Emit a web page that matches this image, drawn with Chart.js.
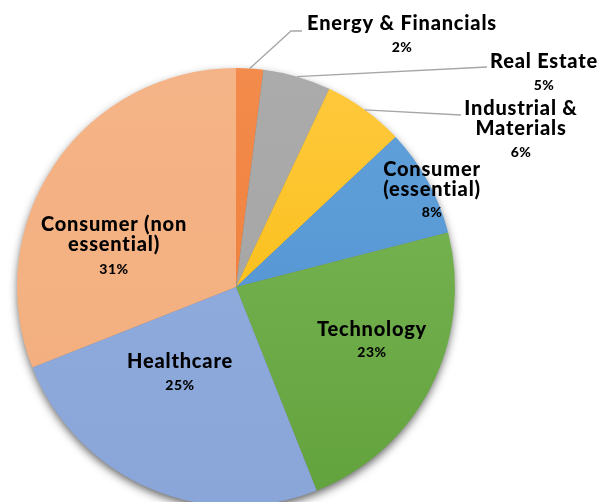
<!DOCTYPE html>
<html lang="en">
<head>
    <meta charset="UTF-8">
    <title>Portfolio by sector</title>
    <script src="https://cdn.jsdelivr.net/npm/chart.js"></script>
    <style>
        html, body {
            margin: 0;
            padding: 0;
            background: #ffffff;
            overflow: hidden;
            width: 600px;
            height: 502px;
        }
        canvas { display: block; }
    </style>
</head>
<body>
    <canvas id="pieChart" width="600" height="510"></canvas>

    <script>
        // data, clockwise from 12 o'clock
        const categories = ['Energy & Financials', 'Real Estate', 'Industrial & Materials',
            'Consumer (essential)', 'Technology', 'Healthcare', 'Consumer (non essential)'];
        const shares = [2, 5, 6, 8, 23, 25, 31];

        // slice colours, lighter at the top, darker at the bottom
        const topColors = ['#F38B4C', '#ABABAB', '#FFC93F', '#63A2DA', '#7DB95A', '#92ADDD', '#F5B487'];
        const bottomColors = ['#EE7A32', '#A2A2A2', '#F7B900', '#4C8ECF', '#62A23C', '#8AA6D9', '#F2AD7C'];

        // label text and where to put it (the leader lines start on the slice edge)
        const labelSpots = [
            { lines: ['Energy & Financials'], x: 402, y: 24, py: 47, leader: [[291, 31], [302, 31]] },
            { lines: ['Real Estate'], x: 544, y: 62, py: 85, leader: [[487, 67]] },
            { lines: ['Industrial &', 'Materials'], x: 521, y: 109, py: 152, leader: [[461, 115]] },
            { lines: ['Consumer', '(essential)'], x: 432, y: 170, py: 212 },
            { lines: ['Technology'], x: 372, y: 330, py: 352 },
            { lines: ['Healthcare'], x: 180, y: 362, py: 385 },
            { lines: ['Consumer (non', 'essential)'], x: 114, y: 225, py: 269 }
        ];

        function sliceGradient(context) {
            const chart = context.chart;
            const area = chart.chartArea;
            if (!area) return topColors[context.dataIndex];
            const g = chart.ctx.createLinearGradient(0, area.top, 0, area.bottom);
            g.addColorStop(0, topColors[context.dataIndex]);
            g.addColorStop(1, bottomColors[context.dataIndex]);
            return g;
        }

        // soft shadow behind the whole pie
        const pieShadow = {
            id: 'pieShadow',
            beforeDatasetsDraw(chart) {
                const arc = chart.getDatasetMeta(0).data[0];
                if (!arc) return;
                const ctx = chart.ctx;
                ctx.save();
                ctx.shadowColor = 'rgba(0,0,0,0.65)';
                ctx.shadowBlur = 10;
                ctx.shadowOffsetX = 0;
                ctx.shadowOffsetY = 4;
                ctx.fillStyle = '#777';
                ctx.beginPath();
                ctx.arc(arc.x, arc.y, arc.outerRadius - 1, 0, Math.PI * 2);
                ctx.fill();
                ctx.restore();
            }
        };

        const sliceLabels = {
            id: 'sliceLabels',
            afterDatasetsDraw(chart) {
                const ctx = chart.ctx;
                const arcs = chart.getDatasetMeta(0).data;
                ctx.save();
                ctx.textAlign = 'center';
                ctx.textBaseline = 'middle';
                labelSpots.forEach((spot, i) => {
                    const arc = arcs[i];
                    if (spot.leader) {
                        const mid = (arc.startAngle + arc.endAngle) / 2;
                        ctx.strokeStyle = '#A6A6A6';
                        ctx.lineWidth = 1.3;
                        ctx.beginPath();
                        ctx.moveTo(arc.x + Math.cos(mid) * arc.outerRadius,
                                   arc.y + Math.sin(mid) * arc.outerRadius);
                        spot.leader.forEach(p => ctx.lineTo(p[0], p[1]));
                        ctx.stroke();
                    }
                    ctx.fillStyle = '#000000';
                    ctx.font = '900 20px Lato, sans-serif';
                    ctx.letterSpacing = '0.8px';
                    spot.lines.forEach((line, k) => ctx.fillText(line, spot.x, spot.y + k * 20));
                    ctx.font = '900 14px Lato, sans-serif';
                    ctx.letterSpacing = '0.5px';
                    ctx.fillText(shares[i] + '%', spot.x, spot.py);
                });
                ctx.restore();
            }
        };

        new Chart(document.getElementById('pieChart').getContext('2d'), {
            type: 'pie',
            data: {
                labels: categories,
                datasets: [{
                    data: shares,
                    backgroundColor: sliceGradient,
                    borderWidth: 0
                }]
            },
            options: {
                responsive: false,
                animation: false,
                layout: { padding: { left: 17, right: 145, top: 68, bottom: 4 } },
                plugins: {
                    legend: { display: false },
                    tooltip: { enabled: false }
                }
            },
            plugins: [pieShadow, sliceLabels]
        });
    </script>
</body>
</html>
